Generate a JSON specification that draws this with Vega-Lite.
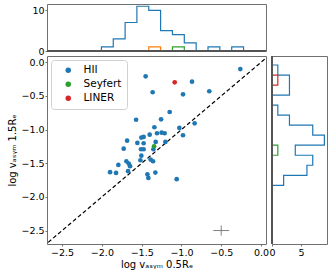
{
  "$schema": "https://vega.github.io/schema/vega-lite/v6.json",
  "padding": {"left": 7, "top": 3, "right": 3, "bottom": 3},
  "background": "white",
  "config": {
    "font": "DejaVu Sans",
    "view": {"stroke": "#707070", "strokeWidth": 1},
    "axis": {"grid": false, "domain": false, "tickColor": "#707070", "tickSize": 2, "labelFontSize": 9.5, "labelColor": "#000", "titleFontSize": 10, "titleFontWeight": "normal", "titleColor": "#000", "labelPadding": 1, "titlePadding": 3, "labelOverlap": false, "labelBound": false, "labelFlush": false}
  },
  "datasets": {
    "points": [
      {"x": -0.260, "y": -0.100, "type": "HII"},
      {"x": -1.450, "y": -0.208, "type": "HII"},
      {"x": -0.867, "y": -0.288, "type": "HII"},
      {"x": -1.362, "y": -0.445, "type": "HII"},
      {"x": -0.980, "y": -0.475, "type": "HII"},
      {"x": -0.650, "y": -0.430, "type": "HII"},
      {"x": -1.148, "y": -0.738, "type": "HII"},
      {"x": -1.570, "y": -0.853, "type": "HII"},
      {"x": -1.256, "y": -0.847, "type": "HII"},
      {"x": -0.834, "y": -0.906, "type": "HII"},
      {"x": -1.026, "y": -0.975, "type": "HII"},
      {"x": -1.340, "y": -0.965, "type": "HII"},
      {"x": -1.399, "y": -1.075, "type": "HII"},
      {"x": -1.307, "y": -1.054, "type": "HII"},
      {"x": -1.249, "y": -1.045, "type": "HII"},
      {"x": -1.211, "y": -1.054, "type": "HII"},
      {"x": -0.980, "y": -1.084, "type": "HII"},
      {"x": -1.504, "y": -1.119, "type": "HII"},
      {"x": -1.475, "y": -1.109, "type": "HII"},
      {"x": -1.683, "y": -1.164, "type": "HII"},
      {"x": -1.554, "y": -1.198, "type": "HII"},
      {"x": -1.475, "y": -1.203, "type": "HII"},
      {"x": -1.324, "y": -1.183, "type": "HII"},
      {"x": -1.202, "y": -1.183, "type": "HII"},
      {"x": -1.726, "y": -1.283, "type": "HII"},
      {"x": -1.508, "y": -1.292, "type": "HII"},
      {"x": -1.475, "y": -1.292, "type": "HII"},
      {"x": -1.353, "y": -1.292, "type": "HII"},
      {"x": -1.504, "y": -1.387, "type": "HII"},
      {"x": -1.516, "y": -1.455, "type": "HII"},
      {"x": -1.692, "y": -1.470, "type": "HII"},
      {"x": -1.663, "y": -1.505, "type": "HII"},
      {"x": -1.387, "y": -1.446, "type": "HII"},
      {"x": -1.357, "y": -1.470, "type": "HII"},
      {"x": -1.793, "y": -1.525, "type": "HII"},
      {"x": -1.646, "y": -1.544, "type": "HII"},
      {"x": -1.897, "y": -1.633, "type": "HII"},
      {"x": -1.822, "y": -1.643, "type": "HII"},
      {"x": -1.671, "y": -1.618, "type": "HII"},
      {"x": -1.428, "y": -1.663, "type": "HII"},
      {"x": -1.328, "y": -1.639, "type": "HII"},
      {"x": -1.416, "y": -1.718, "type": "HII"},
      {"x": -1.060, "y": -1.737, "type": "HII"},
      {"x": -1.344, "y": -1.247, "type": "Seyfert"},
      {"x": -1.085, "y": -0.297, "type": "LINER"}
    ],
    "tophist": [
      {"edge": -2.304, "all": 0, "Seyfert": 0, "LINER": 0},
      {"edge": -2.155, "all": 0, "Seyfert": 0, "LINER": 0},
      {"edge": -2.006, "all": 1, "Seyfert": 0, "LINER": 0},
      {"edge": -1.857, "all": 3, "Seyfert": 0, "LINER": 0},
      {"edge": -1.708, "all": 7, "Seyfert": 0, "LINER": 0},
      {"edge": -1.560, "all": 11, "Seyfert": 0, "LINER": 0},
      {"edge": -1.411, "all": 10, "Seyfert": 1, "LINER": 0},
      {"edge": -1.262, "all": 5, "Seyfert": 0, "LINER": 0},
      {"edge": -1.113, "all": 4, "Seyfert": 0, "LINER": 1},
      {"edge": -0.964, "all": 2, "Seyfert": 0, "LINER": 0},
      {"edge": -0.815, "all": 0, "Seyfert": 0, "LINER": 0},
      {"edge": -0.666, "all": 1, "Seyfert": 0, "LINER": 0},
      {"edge": -0.517, "all": 0, "Seyfert": 0, "LINER": 0},
      {"edge": -0.368, "all": 1, "Seyfert": 0, "LINER": 0},
      {"edge": -0.219, "all": 0, "Seyfert": 0, "LINER": 0},
      {"edge": -0.070, "all": 0, "Seyfert": 0, "LINER": 0},
      {"edge": 0.079, "all": 0, "Seyfert": 0, "LINER": 0}
    ],
    "righthist": [
      {"edge": 0.109, "all": 0, "Seyfert": 0, "LINER": 0},
      {"edge": -0.040, "all": 1, "Seyfert": 0, "LINER": 0},
      {"edge": -0.189, "all": 3, "Seyfert": 0, "LINER": 1},
      {"edge": -0.338, "all": 3, "Seyfert": 0, "LINER": 0},
      {"edge": -0.487, "all": 0, "Seyfert": 0, "LINER": 0},
      {"edge": -0.636, "all": 1, "Seyfert": 0, "LINER": 0},
      {"edge": -0.785, "all": 3, "Seyfert": 0, "LINER": 0},
      {"edge": -0.934, "all": 7, "Seyfert": 0, "LINER": 0},
      {"edge": -1.083, "all": 9, "Seyfert": 0, "LINER": 0},
      {"edge": -1.232, "all": 4, "Seyfert": 1, "LINER": 0},
      {"edge": -1.381, "all": 7, "Seyfert": 0, "LINER": 0},
      {"edge": -1.530, "all": 6, "Seyfert": 0, "LINER": 0},
      {"edge": -1.679, "all": 2, "Seyfert": 0, "LINER": 0},
      {"edge": -1.828, "all": 0, "Seyfert": 0, "LINER": 0},
      {"edge": -1.977, "all": 0, "Seyfert": 0, "LINER": 0},
      {"edge": -2.126, "all": 0, "Seyfert": 0, "LINER": 0},
      {"edge": -2.275, "all": 0, "Seyfert": 0, "LINER": 0},
      {"edge": -2.424, "all": 0, "Seyfert": 0, "LINER": 0},
      {"edge": -2.573, "all": 0, "Seyfert": 0, "LINER": 0},
      {"edge": -2.722, "all": 0, "Seyfert": 0, "LINER": 0}
    ],
    "diag": [{"x": -2.8, "y": -2.8}, {"x": 0.2, "y": 0.2}],
    "cross": [{"x": -0.5, "y": -2.5, "xlo": -0.6, "xhi": -0.4, "ylo": -2.575, "yhi": -2.425}]
  },
  "columns": 2,
  "align": "each",
  "bounds": "flush",
  "spacing": {"row": 5, "column": 6},
  "resolve": {"scale": {"x": "independent", "y": "independent", "color": "independent"}},
  "concat": [
    {
      "width": 219,
      "height": 47,
      "data": {"name": "tophist"},
      "layer": [
        {
          "transform": [{"fold": ["all", "Seyfert", "LINER"], "as": ["series", "count"]}],
          "mark": {"type": "line", "interpolate": "step-after", "clip": true, "strokeWidth": 1.2},
          "encoding": {
            "x": {"field": "edge", "type": "quantitative", "scale": {"domain": [-2.69, 0.063], "nice": false, "zero": false}, "axis": null},
            "y": {"field": "count", "type": "quantitative", "scale": {"domain": [0, 11.55], "nice": false}, "axis": {"values": [0, 10], "title": null}},
            "color": {"field": "series", "type": "nominal", "scale": {"domain": ["all", "Seyfert", "LINER"], "range": ["#1f77b4", "#ff7f0e", "#2ca02c"]}, "legend": null}
          }
        },
        {
          "mark": {"type": "rule", "color": "#555555", "strokeWidth": 1.3},
          "encoding": {"y": {"datum": 0, "type": "quantitative"}}
        }
      ]
    },
    {
      "width": 55,
      "height": 47,
      "view": {"stroke": null},
      "data": {"values": [{"a": 0}]},
      "mark": {"type": "point", "opacity": 0},
      "encoding": {}
    },
    {
      "width": 219,
      "height": 188,
      "encoding": {
        "x": {"type": "quantitative", "scale": {"domain": [-2.69, 0.063], "nice": false, "zero": false}, "axis": {"values": [-2.5, -2.0, -1.5, -1.0, -0.5, 0.0], "format": ".1f", "title": "log vₐₛᵧₘ 0.5Rₑ", "labelOverlap": false}},
        "y": {"type": "quantitative", "scale": {"domain": [-2.7, 0.094], "nice": false, "zero": false}, "axis": {"tickCount": 6, "format": ".1f", "title": "log vₐₛᵧₘ 1.5Rₑ", "labelOverlap": false, "labelBaseline": "middle"}}
      },
      "layer": [
        {
          "data": {"name": "diag"},
          "mark": {"type": "line", "color": "#000", "strokeDash": [4, 2.5], "strokeWidth": 1.2, "clip": true},
          "encoding": {
            "x": {"field": "x", "type": "quantitative"},
            "y": {"field": "y", "type": "quantitative"}
          }
        },
        {
          "data": {"name": "points"},
          "mark": {"type": "circle", "size": 22, "opacity": 1},
          "encoding": {
            "x": {"field": "x", "type": "quantitative"},
            "y": {"field": "y", "type": "quantitative"},
            "color": {"field": "type", "type": "nominal", "scale": {"domain": ["HII", "Seyfert", "LINER"], "range": ["#1f77b4", "#2ca02c", "#d62728"]},
              "legend": {"orient": "top-left", "title": null, "offset": 4, "padding": 5, "symbolOffset": 7, "labelOffset": 10, "rowPadding": 3, "fillColor": "white", "strokeColor": "#d0d0d0", "cornerRadius": 3, "labelFontSize": 10.5, "symbolSize": 30, "symbolType": "circle"}}
          }
        },
        {
          "data": {"name": "cross"},
          "mark": {"type": "rule", "color": "#808080", "strokeWidth": 1},
          "encoding": {
            "x": {"field": "xlo", "type": "quantitative"},
            "x2": {"field": "xhi"},
            "y": {"field": "y", "type": "quantitative"}
          }
        },
        {
          "data": {"name": "cross"},
          "mark": {"type": "rule", "color": "#808080", "strokeWidth": 1},
          "encoding": {
            "x": {"field": "x", "type": "quantitative"},
            "y": {"field": "ylo", "type": "quantitative"},
            "y2": {"field": "yhi"}
          }
        }
      ]
    },
    {
      "width": 55,
      "height": 188,
      "data": {"name": "righthist"},
      "layer": [
        {
          "transform": [{"fold": ["all", "Seyfert", "LINER"], "as": ["series", "count"]}],
          "mark": {"type": "line", "interpolate": "step-before", "clip": true, "strokeWidth": 1.2},
          "encoding": {
            "x": {"field": "count", "type": "quantitative", "scale": {"domain": [0, 9.45], "nice": false}, "axis": {"values": [0, 5], "title": null}},
            "y": {"field": "edge", "type": "quantitative", "scale": {"domain": [-2.7, 0.094], "nice": false, "zero": false}, "axis": null},
            "order": {"field": "edge", "sort": "descending"},
            "color": {"field": "series", "type": "nominal", "scale": {"domain": ["all", "Seyfert", "LINER"], "range": ["#1f77b4", "#2ca02c", "#d62728"]}, "legend": null}
          }
        },
        {
          "mark": {"type": "rule", "color": "#555555", "strokeWidth": 1.3},
          "encoding": {"x": {"datum": 0, "type": "quantitative"}}
        }
      ]
    }
  ]
}
